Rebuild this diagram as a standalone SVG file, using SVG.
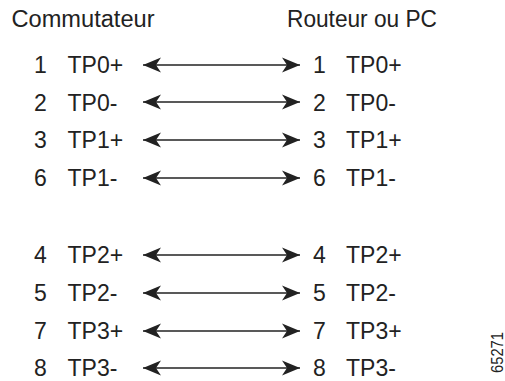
<svg xmlns="http://www.w3.org/2000/svg" width="505" height="381" viewBox="0 0 505 381">
<style>
  text { font-family: "Liberation Sans", Arial, sans-serif; font-size: 23px; fill: #222; }
  .conn { stroke: #222; stroke-width: 1.3; fill: none; marker-start: url(#ah); marker-end: url(#ah); }
</style>
<defs>
  <marker id="ah" markerUnits="userSpaceOnUse" viewBox="-18 -8 19 16" markerWidth="19" markerHeight="16" refX="0" refY="0" orient="auto-start-reverse">
    <path d="M0,0 L-18,-7.5 L-13,0 L-18,7.5 Z" fill="#222"/>
  </marker>
</defs>
<rect width="505" height="381" fill="#fff"/>
<g id="header-left"><text x="11.5" y="27" textLength="143" lengthAdjust="spacingAndGlyphs">Commutateur</text></g>
<g id="header-right"><text x="287" y="27" textLength="150" lengthAdjust="spacingAndGlyphs">Routeur ou PC</text></g>

<g id="L1"><text x="34" y="73.3">1</text><text x="67.5" y="73.3">TP0+</text></g>
<g id="L2"><text x="34" y="110.5">2</text><text x="67.5" y="110.5">TP0-</text></g>
<g id="L3"><text x="34" y="148.3">3</text><text x="67.5" y="148.3">TP1+</text></g>
<g id="L6"><text x="34" y="186.3">6</text><text x="67.5" y="186.3">TP1-</text></g>
<g id="L4"><text x="34" y="263">4</text><text x="67.5" y="263">TP2+</text></g>
<g id="L5"><text x="34" y="300.8">5</text><text x="67.5" y="300.8">TP2-</text></g>
<g id="L7"><text x="34" y="338.5">7</text><text x="67.5" y="338.5">TP3+</text></g>
<g id="L8"><text x="34" y="375.5">8</text><text x="67.5" y="375.5">TP3-</text></g>

<g id="R1"><text x="313" y="73.3">1</text><text x="346" y="73.3">TP0+</text></g>
<g id="R2"><text x="313" y="110.5">2</text><text x="346" y="110.5">TP0-</text></g>
<g id="R3"><text x="313" y="148.3">3</text><text x="346" y="148.3">TP1+</text></g>
<g id="R6"><text x="313" y="186.3">6</text><text x="346" y="186.3">TP1-</text></g>
<g id="R4"><text x="313" y="263">4</text><text x="346" y="263">TP2+</text></g>
<g id="R5"><text x="313" y="300.8">5</text><text x="346" y="300.8">TP2-</text></g>
<g id="R7"><text x="313" y="338.5">7</text><text x="346" y="338.5">TP3+</text></g>
<g id="R8"><text x="313" y="375.5">8</text><text x="346" y="375.5">TP3-</text></g>

<g id="connectors">
  <line class="conn" x1="143" y1="65" x2="300" y2="65"/>
  <line class="conn" x1="143" y1="102" x2="300" y2="102"/>
  <line class="conn" x1="143" y1="140" x2="300" y2="140"/>
  <line class="conn" x1="143" y1="178" x2="300" y2="178"/>
  <line class="conn" x1="143" y1="255" x2="300" y2="255"/>
  <line class="conn" x1="143" y1="293" x2="300" y2="293"/>
  <line class="conn" x1="143" y1="331" x2="300" y2="331"/>
  <line class="conn" x1="143" y1="368" x2="300" y2="368"/>
</g>

<g id="figure-id"><text transform="translate(503,373) rotate(-90)" x="0" y="0" style="font-size:16px" textLength="41" lengthAdjust="spacingAndGlyphs">65271</text></g>
</svg>
